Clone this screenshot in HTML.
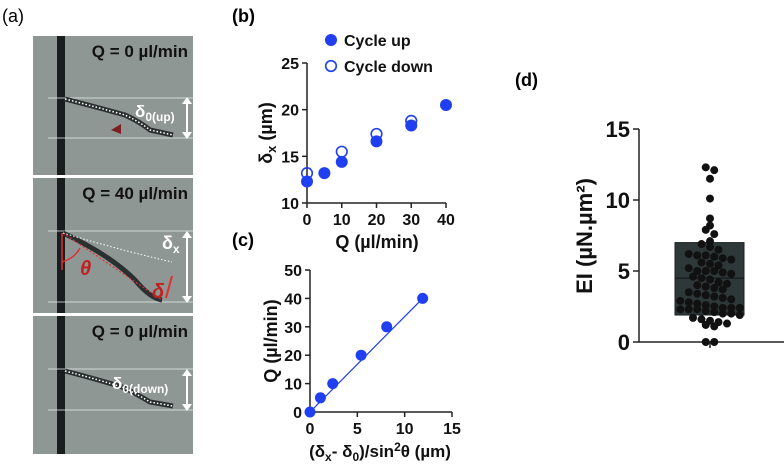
<!DOCTYPE html>
<html><head><meta charset="utf-8"><style>
body{margin:0;background:#fff;width:784px;height:465px;overflow:hidden;font-family:"Liberation Sans",sans-serif}
svg text{font-family:"Liberation Sans",sans-serif}
#chartB text,#chartC text,#chartD text,.micro text{font-weight:bold}
</style></head><body>
<svg width="784" height="465" viewBox="0 0 784 465" xmlns="http://www.w3.org/2000/svg">
<text x="2" y="22" font-size="18">(a)</text>
<text x="232" y="22" font-size="18" font-weight="bold">(b)</text>
<text x="232" y="246" font-size="18" font-weight="bold">(c)</text>
<text x="515" y="86" font-size="18" font-weight="bold">(d)</text>

<g class="micro">
 <g>
  <rect x="33" y="36" width="160" height="139" fill="#8f9795"/>
  <rect x="57" y="36" width="8" height="139" fill="#1a1d1d"/>
  <line x1="48" y1="98" x2="193" y2="98" stroke="#e8eeee" stroke-width="0.7"/>
  <line x1="48" y1="138" x2="193" y2="138" stroke="#e8eeee" stroke-width="0.7"/>
  <path d="M65,99 Q100,108 125,115 Q140,122 150,130 L173,135" stroke="#2a2f30" stroke-width="5" fill="none"/>
  <path d="M65,99 Q100,108 125,115 Q140,122 150,130 L173,135" stroke="#fff" stroke-width="1.5" stroke-dasharray="1.5,2" fill="none"/>
  <path d="M111,130 L121,124 L121,134 Z" fill="#7a2020"/>
  <text x="188" y="57" font-size="17" text-anchor="end" fill="#111">Q = 0 µl/min</text>
  <text x="135" y="117" font-size="17" fill="#fff">δ<tspan font-size="12" dy="4">0(up)</tspan></text>
  <line x1="187" y1="100" x2="187" y2="136" stroke="#fff" stroke-width="2"/>
  <path d="M182,104 L187,97 L192,104Z M182,132 L187,139 L192,132Z" fill="#fff"/>
 </g>
 <g>
  <rect x="33" y="178" width="160" height="135" fill="#8f9795"/>
  <rect x="57" y="178" width="8" height="135" fill="#1a1d1d"/>
  <line x1="48" y1="231" x2="193" y2="231" stroke="#e8eeee" stroke-width="0.7"/>
  <line x1="48" y1="302" x2="193" y2="302" stroke="#e8eeee" stroke-width="0.7"/>
  <path d="M63,233 Q110,255 135,280 Q150,298 162,300" stroke="#2a2f30" stroke-width="5" fill="none"/>
  <path d="M63,233 L162,300" stroke="#e03030" stroke-width="1.2" stroke-dasharray="2,2" fill="none"/>
  <path d="M63,233 Q120,250 172,262" stroke="#fff" stroke-width="1" stroke-dasharray="1.5,2" fill="none"/>
  <line x1="62" y1="233" x2="62" y2="270" stroke="#e03030" stroke-width="1.5"/>
  <path d="M62,262 Q75,258 80,248" stroke="#e03030" stroke-width="1.5" fill="none"/>
  <text x="80" y="275" font-size="20" font-style="italic" fill="#c02020">θ</text>
  <text x="152" y="298" font-size="20" font-style="italic" fill="#c02020">δ</text>
  <line x1="166" y1="298" x2="172" y2="276" stroke="#e03030" stroke-width="2"/>
  <text x="188" y="199" font-size="17" text-anchor="end" fill="#111">Q = 40 µl/min</text>
  <text x="162" y="249" font-size="18" fill="#fff">δ<tspan font-size="12" dy="4">x</tspan></text>
  <line x1="187" y1="234" x2="187" y2="300" stroke="#fff" stroke-width="2"/>
  <path d="M182,238 L187,231 L192,238Z M182,296 L187,303 L192,296Z" fill="#fff"/>
 </g>
 <g>
  <rect x="33" y="316" width="160" height="138" fill="#8f9795"/>
  <rect x="57" y="316" width="8" height="138" fill="#1a1d1d"/>
  <line x1="48" y1="369" x2="193" y2="369" stroke="#e8eeee" stroke-width="0.7"/>
  <line x1="48" y1="410" x2="193" y2="410" stroke="#e8eeee" stroke-width="0.7"/>
  <path d="M65,371 Q100,380 125,388 Q140,396 150,402 L173,406" stroke="#2a2f30" stroke-width="5" fill="none"/>
  <path d="M65,371 Q100,380 125,388 Q140,396 150,402 L173,406" stroke="#fff" stroke-width="1.5" stroke-dasharray="1.5,2" fill="none"/>
  <text x="188" y="337" font-size="17" text-anchor="end" fill="#111">Q = 0 µl/min</text>
  <text x="112" y="389" font-size="17" fill="#fff">δ<tspan font-size="12" dy="4">0(down)</tspan></text>
  <line x1="187" y1="372" x2="187" y2="408" stroke="#fff" stroke-width="2"/>
  <path d="M182,376 L187,369 L192,376Z M182,404 L187,411 L192,404Z" fill="#fff"/>
 </g>
</g>

<g id="chartB"></g>
<g id="chartC"></g>
<g id="chartD"></g>
</svg>
<script>
const bQ = [0, 5, 10, 20, 30, 40];
const bUp = [12.3, 13.2, 14.4, 16.6, 18.3, 20.5];
const bDownQ = [0, 10, 20, 30];
const bDown = [13.2, 15.5, 17.4, 18.8];
const bXTicks = [0, 10, 20, 30, 40];
const bYTicks = [10, 15, 20, 25];

const cX = [0, 1.1, 2.4, 5.4, 8.1, 11.9];
const cQ = [0, 5, 10, 20, 30, 40];
const cXTicks = [0, 5, 10, 15];
const cYTicks = [0, 10, 20, 30, 40, 50];

const dValues = [12.3,12.1,11.5,10.1,8.7,8.2,7.9,7.6,7.1,6.9,6.7,6.5,6.2,6.1,6.1,6.0,5.9,5.8,5.6,5.5,5.4,5.2,5.0,5.0,5.0,4.9,4.8,4.6,4.5,4.4,4.2,4.1,4.0,3.9,3.8,3.7,3.5,3.4,3.3,3.2,3.1,3.0,2.9,2.8,2.7,2.6,2.5,2.4,2.4,2.4,2.3,2.3,2.3,2.2,2.1,2.0,2.0,1.9,1.7,1.6,1.5,1.4,1.3,1.2,1.1,0.0,0.0];
const dYTicks = [0, 5, 10, 15];
const dBox = [1.9, 4.5, 7.0];

const NS = "http://www.w3.org/2000/svg";
function mk(parent, tag, attrs, text){const e=document.createElementNS(NS,tag);for(const k in attrs)e.setAttribute(k,attrs[k]);if(text!==undefined)e.textContent=text;parent.appendChild(e);return e;}
const blue="#1f3ff0";

(function(){
 const g=document.getElementById('chartB');
 const x=v=>307+v*(139/40), y=v=>203-(v-10)*(140/15);
 mk(g,'line',{x1:307,y1:y(25),x2:307,y2:203,stroke:'#222','stroke-width':1.5});
 mk(g,'line',{x1:307,y1:203,x2:x(40),y2:203,stroke:'#222','stroke-width':1.5});
 bYTicks.forEach(t=>{mk(g,'line',{x1:302,y1:y(t),x2:307,y2:y(t),stroke:'#222','stroke-width':1.5});
  const tl=mk(g,'text',{x:299,y:y(t)+6,'font-size':16,'text-anchor':'end',fill:'#111'},t);
  
  });
 bXTicks.forEach(t=>{mk(g,'line',{x1:x(t),y1:203,x2:x(t),y2:208,stroke:'#222','stroke-width':1.5});
  const tl=mk(g,'text',{x:x(t),y:225,'font-size':16,'text-anchor':'middle',fill:'#111'},t);
  
  });
 const xt=mk(g,'text',{x:377,y:248,'font-size':18,'text-anchor':'middle',fill:'#111'},'Q (µl/min)');
 
 
 const yt=mk(g,'text',{transform:'translate(272,133) rotate(-90)','font-size':18,'text-anchor':'middle',fill:'#111'});
 
 
 yt.innerHTML='δ<tspan font-size="13" dy="4">x</tspan><tspan dy="-4"> (µm)</tspan>';
 bQ.forEach((q,i)=>{const c=mk(g,'circle',{cx:x(q),cy:y(bUp[i]),r:6,fill:blue});
  
  });
 bDownQ.forEach((q,i)=>{const c=mk(g,'circle',{cx:x(q),cy:y(bDown[i]),r:5.3,fill:'none',stroke:blue,'stroke-width':1.6});
  
  });
 const l1=mk(g,'circle',{cx:331,cy:40,r:6,fill:blue});
 
 
 const l1t=mk(g,'text',{x:344,y:46,'font-size':16,fill:'#111'},'Cycle up');
 
 
 const l2=mk(g,'circle',{cx:331,cy:66,r:5.3,fill:'none',stroke:blue,'stroke-width':1.6});
 
 
 const l2t=mk(g,'text',{x:344,y:72,'font-size':16,fill:'#111'},'Cycle down');
 
 
})();

(function(){
 const g=document.getElementById('chartC');
 const x=v=>310+v*(142/15), y=v=>412-v*(142/50);
 mk(g,'line',{x1:310,y1:y(50),x2:310,y2:412,stroke:'#222','stroke-width':1.5});
 mk(g,'line',{x1:310,y1:412,x2:x(15),y2:412,stroke:'#222','stroke-width':1.5});
 cYTicks.forEach(t=>{mk(g,'line',{x1:305,y1:y(t),x2:310,y2:y(t),stroke:'#222','stroke-width':1.5});
  const tl=mk(g,'text',{x:302,y:y(t)+6,'font-size':16,'text-anchor':'end',fill:'#111'},t);
  
  });
 cXTicks.forEach(t=>{mk(g,'line',{x1:x(t),y1:412,x2:x(t),y2:417,stroke:'#222','stroke-width':1.5});
  const tl=mk(g,'text',{x:x(t),y:434,'font-size':16,'text-anchor':'middle',fill:'#111'},t);
  
  });
 const n=cX.length;
 const fit=mk(g,'line',{x1:x(cX[0]),y1:y(cQ[0]),x2:x(cX[n-1]),y2:y(cQ[n-1]),stroke:blue,'stroke-width':1.2});
 
 
 cX.forEach((v,i)=>{const c=mk(g,'circle',{cx:x(v),cy:y(cQ[i]),r:5.5,fill:blue});
  
  });
 const xt=mk(g,'text',{x:380,y:457,'font-size':17,'text-anchor':'middle',fill:'#111'});
 
 
 xt.innerHTML='(δ<tspan font-size="12" dy="4">x</tspan><tspan dy="-4">- δ</tspan><tspan font-size="12" dy="4">0</tspan><tspan dy="-4">)/sin</tspan><tspan font-size="12" dy="-6">2</tspan><tspan dy="6">θ (µm)</tspan>';
 const yt=mk(g,'text',{transform:'translate(277,341) rotate(-90)','font-size':18,'text-anchor':'middle',fill:'#111'},'Q (µl/min)');
 
 
})();

(function(){
 const g=document.getElementById('chartD');
 const cx=710, y=v=>342-v*(213/15);
 mk(g,'line',{x1:639,y1:y(15),x2:639,y2:342,stroke:'#222','stroke-width':1.5});
 mk(g,'line',{x1:639,y1:342,x2:784,y2:342,stroke:'#222','stroke-width':1.5});
 mk(g,'line',{x1:cx,y1:342,x2:cx,y2:348,stroke:'#222','stroke-width':1.5});
 dYTicks.forEach(t=>{mk(g,'line',{x1:633,y1:y(t),x2:639,y2:y(t),stroke:'#222','stroke-width':1.5});
  const tl=mk(g,'text',{x:630,y:y(t)+8,'font-size':22,'text-anchor':'end',fill:'#111'},t);
  
  });
 const yt=mk(g,'text',{transform:'translate(592,236) rotate(-90)','font-size':22,'text-anchor':'middle',fill:'#111'},'EI (µN.µm²)');
 
 
 const box=mk(g,'rect',{x:675,y:y(dBox[2]),width:69,height:y(dBox[0])-y(dBox[2]),fill:'#2e3838',stroke:'#1a1f1f','stroke-width':1});
 
 
 mk(g,'line',{x1:675,y1:y(dBox[1]),x2:744,y2:y(dBox[1]),stroke:'#111','stroke-width':1});
 const rows={};
 dValues.forEach(v=>{const k=Math.round(y(v)/8);(rows[k]=rows[k]||[]).push(v);});
 Object.keys(rows).forEach(k=>{const arr=rows[k];const n=arr.length;
  arr.forEach((v,i)=>{const off=(i-(n-1)/2)*8.5;
   const c=mk(g,'circle',{cx:cx+off,cy:y(v),r:4,fill:'#111'});
   
   });});
})();
</script>
</body></html>
